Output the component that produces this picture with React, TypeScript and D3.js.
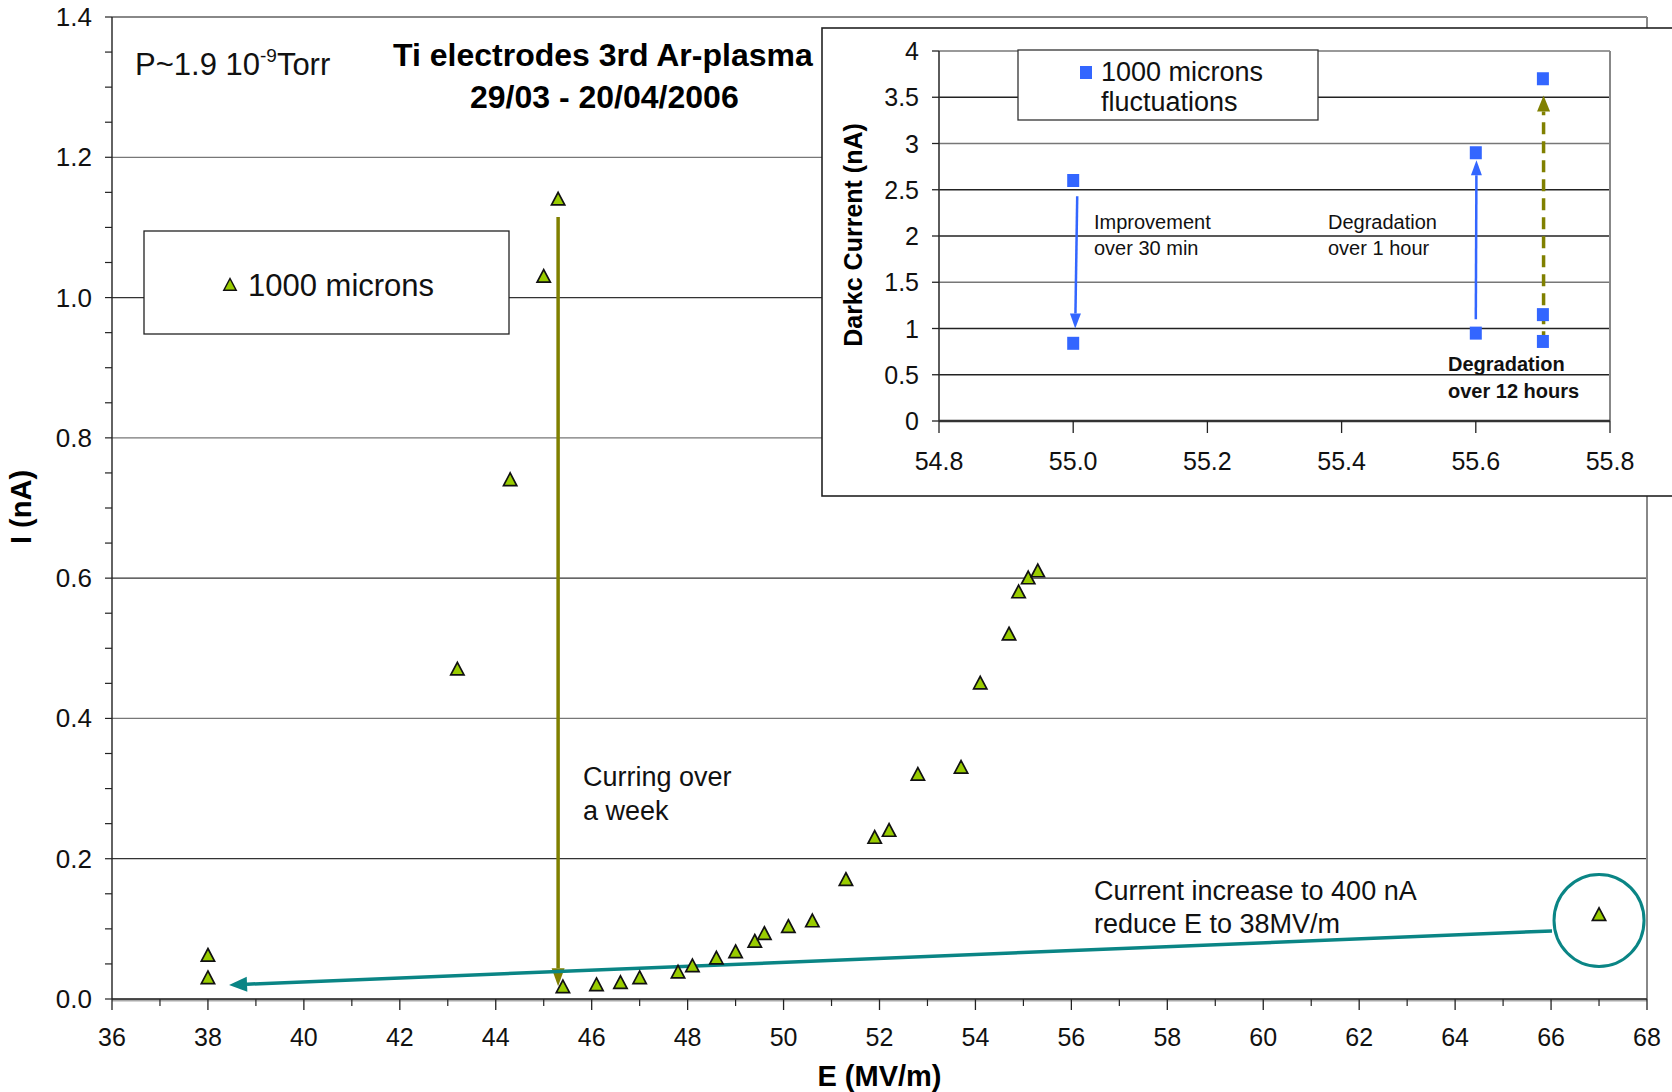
import React from "react";
import * as d3 from "d3";

// main series: 1000 microns, E (MV/m) vs I (nA)
const fieldE = [38, 38, 43.2, 44.3, 45.0, 45.3, 45.4, 46.1, 46.6, 47.0, 47.8, 48.1, 48.6, 49.0, 49.4, 49.6, 50.1, 50.6, 51.3, 51.9, 52.2, 52.8, 53.7, 54.1, 54.7, 54.9, 55.1, 55.3, 67.0];
const currentI = [0.062, 0.03, 0.47, 0.74, 1.03, 1.14, 0.017, 0.02, 0.023, 0.03, 0.038, 0.047, 0.058, 0.067, 0.082, 0.093, 0.103, 0.111, 0.17, 0.23, 0.24, 0.32, 0.33, 0.45, 0.52, 0.58, 0.60, 0.61, 0.12];

// inset: fluctuations
const fluctE = [55.0, 55.0, 55.6, 55.6, 55.7, 55.7, 55.7];
const fluctI = [2.6, 0.84, 2.9, 0.95, 3.7, 1.15, 0.86];

const xTicks = d3.range(36, 69, 2);
const xMinor = d3.range(37, 68, 2);
const yTicks = [0, 0.2, 0.4, 0.6, 0.8, 1.0, 1.2, 1.4];
const yMinor = d3.range(0, 1.4001, 0.05);
const insetXTicks = [54.8, 55.0, 55.2, 55.4, 55.6, 55.8];
const insetYTicks = [0, 0.5, 1, 1.5, 2, 2.5, 3, 3.5, 4];

const FONT = "'Liberation Sans', Arial, sans-serif";
const OLIVE = "#808000";
const TEAL = "#0a8585";
const BLUE = "#3366ff";
const GREEN = "#99cc00";

const x = d3.scaleLinear().domain([36, 68]).range([112, 1647]);
const y = d3.scaleLinear().domain([0, 1.4]).range([999, 17]);
const ix = d3.scaleLinear().domain([54.8, 55.8]).range([939, 1610]);
const iy = d3.scaleLinear().domain([0, 4]).range([421, 51]);

function tri(cx, cy, s = 7) {
  return `M${cx},${cy - s}L${cx + s * 0.95},${cy + s * 0.8}L${cx - s * 0.95},${cy + s * 0.8}Z`;
}

function Arrow({ x1, y1, x2, y2, color, width, headLen, headW, dash }) {
  const a = Math.atan2(y2 - y1, x2 - x1);
  const bx = x2 - headLen * Math.cos(a);
  const by = y2 - headLen * Math.sin(a);
  const px = -Math.sin(a) * headW / 2;
  const py = Math.cos(a) * headW / 2;
  return (
    <g>
      <line x1={x1} y1={y1} x2={bx} y2={by} stroke={color} strokeWidth={width} strokeDasharray={dash} />
      <path d={`M${x2},${y2}L${bx + px},${by + py}L${bx - px},${by - py}Z`} fill={color} />
    </g>
  );
}

export default function App() {
  const fmtY = (v) => v.toFixed(1);
  return (
    <svg width={1672} height={1092} style={{ display: "block", position: "absolute", left: 0, top: 0, background: "#fff" }} fontFamily={FONT}>
      <rect width={1672} height={1092} fill="#fff" />
      {/* grid */}
      {yTicks.filter((t) => t > 0).map((t, i) => (
        <line key={t} x1={x(36)} x2={x(68)} y1={y(t)} y2={y(t)} stroke={i % 2 ? "#777" : "#333"} strokeWidth={1.3} />
      ))}
      <line x1={x(68)} x2={x(68)} y1={y(1.4)} y2={y(0)} stroke="#888" strokeWidth={2} />
      <line x1={x(36)} x2={x(68)} y1={y(1.4)} y2={y(1.4)} stroke="#888" strokeWidth={2} />
      {/* axes */}
      <line x1={x(36)} x2={x(68)} y1={y(0) + 1} y2={y(0) + 1} stroke="#aaa" strokeWidth={3} />
      <line x1={x(36)} x2={x(68)} y1={y(0)} y2={y(0)} stroke="#222" strokeWidth={1.4} />
      <line x1={x(36)} x2={x(36)} y1={y(1.4)} y2={y(0)} stroke="#222" strokeWidth={1.4} />
      {yMinor.map((t) => (
        <line key={t} x1={x(36) - 7} x2={x(36)} y1={y(t)} y2={y(t)} stroke="#222" strokeWidth={1.2} />
      ))}
      {yTicks.map((t) => (
        <text key={t} x={92} y={y(t) + 9} fontSize={26} textAnchor="end" fill="#111">{fmtY(t)}</text>
      ))}
      {xTicks.map((t) => (
        <g key={t}>
          <line x1={x(t)} x2={x(t)} y1={y(0)} y2={y(0) + 11} stroke="#222" strokeWidth={1.3} />
          <text x={x(t)} y={1046} fontSize={25} textAnchor="middle" fill="#111">{t}</text>
        </g>
      ))}
      {xMinor.map((t) => (
        <line key={t} x1={x(t)} x2={x(t)} y1={y(0)} y2={y(0) + 7} stroke="#222" strokeWidth={1.2} />
      ))}
      <text x={x(52)} y={1086} fontSize={29} fontWeight="bold" textAnchor="middle">E (MV/m)</text>
      <text transform="translate(31,507) rotate(-90)" fontSize={29} fontWeight="bold" textAnchor="middle">I (nA)</text>

      {/* title and notes */}
      <text x={135} y={75} fontSize={31} fill="#111">P~1.9 10<tspan dy={-13} fontSize={19}>-9</tspan><tspan dy={13}>Torr</tspan></text>
      <text x={393} y={66} fontSize={32} fontWeight="bold">Ti electrodes 3rd Ar-plasma</text>
      <text x={470} y={108} fontSize={32} fontWeight="bold">29/03 - 20/04/2006</text>

      <rect x={144} y={231} width={365} height={103} fill="#fff" stroke="#222" strokeWidth={1.3} />
      <path d={tri(230, 285, 6.5)} fill={GREEN} stroke="#111" strokeWidth={1.5} />
      <text x={248} y={296} fontSize={31} fill="#111">1000 microns</text>

      <text x={583} y={786} fontSize={27} fill="#111">Curring over</text>
      <text x={583} y={820} fontSize={27} fill="#111">a week</text>
      <text x={1094} y={900} fontSize={27} fill="#111">Current increase to 400 nA</text>
      <text x={1094} y={933} fontSize={27} fill="#111">reduce E to 38MV/m</text>

      {/* annotations */}
      <Arrow x1={x(45.3)} y1={y(1.115)} x2={x(45.3)} y2={y(0.018)} color={OLIVE} width={3.5} headLen={18} headW={13} />
      <Arrow x1={x(66.02)} y1={y(0.097)} x2={x(38.44)} y2={y(0.02)} color={TEAL} width={3.5} headLen={18} headW={15} />
      <ellipse cx={x(67.0)} cy={y(0.112)} rx={45} ry={46} fill="none" stroke={TEAL} strokeWidth={3} />

      {/* data */}
      {fieldE.map((e, i) => (
        <path key={i} d={tri(x(e), y(currentI[i]))} fill={GREEN} stroke="#111" strokeWidth={1.7} />
      ))}

      {/* inset */}
      <rect x={822} y={28} width={860} height={468} fill="#fff" stroke="#222" strokeWidth={1.6} />
      {insetYTicks.filter((t) => t > 0).map((t) => (
        <line key={t} x1={ix(54.8)} x2={ix(55.8)} y1={iy(t)} y2={iy(t)} stroke={t === 4 || t === 3 || t === 1.5 ? "#777" : "#222"} strokeWidth={1.4} />
      ))}
      <line x1={ix(55.8)} x2={ix(55.8)} y1={iy(4)} y2={iy(0)} stroke="#888" strokeWidth={2} />
      <line x1={ix(54.8)} x2={ix(55.8)} y1={iy(0)} y2={iy(0)} stroke="#333" strokeWidth={2.5} />
      <line x1={ix(54.8)} x2={ix(54.8)} y1={iy(4)} y2={iy(0)} stroke="#333" strokeWidth={1.6} />
      {insetYTicks.map((t) => (
        <g key={t}>
          <line x1={ix(54.8) - 7} x2={ix(54.8)} y1={iy(t)} y2={iy(t)} stroke="#222" strokeWidth={1.3} />
          <text x={919} y={iy(t) + 9} fontSize={25} textAnchor="end" fill="#111">{t}</text>
        </g>
      ))}
      {insetXTicks.map((t) => (
        <g key={t}>
          <line x1={ix(t)} x2={ix(t)} y1={iy(0)} y2={iy(0) + 12} stroke="#222" strokeWidth={1.3} />
          <text x={ix(t)} y={470} fontSize={25} textAnchor="middle" fill="#111">{t.toFixed(1)}</text>
        </g>
      ))}
      <text transform="translate(862,235) rotate(-90)" fontSize={25} fontWeight="bold" textAnchor="middle">Darkc Current (nA)</text>

      <rect x={1018} y={50} width={300} height={70} fill="#fff" stroke="#333" strokeWidth={1.3} />
      <rect x={1080} y={66} width={12} height={13} fill={BLUE} />
      <text x={1101} y={81} fontSize={27} fill="#111">1000 microns</text>
      <text x={1101} y={111} fontSize={27} fill="#111">fluctuations</text>

      <text x={1094} y={229} fontSize={20} fill="#111">Improvement</text>
      <text x={1094} y={255} fontSize={20} fill="#111">over 30 min</text>
      <text x={1328} y={229} fontSize={20} fill="#111">Degradation</text>
      <text x={1328} y={255} fontSize={20} fill="#111">over 1 hour</text>
      <text x={1448} y={371} fontSize={20} fontWeight="bold" fill="#111">Degradation</text>
      <text x={1448} y={398} fontSize={20} fontWeight="bold" fill="#111">over 12 hours</text>

      <Arrow x1={ix(55.006)} y1={iy(2.43)} x2={ix(55.003)} y2={iy(1.0)} color={BLUE} width={2.5} headLen={15} headW={11} />
      <Arrow x1={ix(55.6)} y1={iy(1.1)} x2={ix(55.601)} y2={iy(2.82)} color={BLUE} width={2.5} headLen={15} headW={11} />
      <Arrow x1={ix(55.701)} y1={iy(0.84)} x2={ix(55.701)} y2={iy(3.52)} color={OLIVE} width={3.5} headLen={16} headW={13} dash="12 7" />

      {fluctE.map((e, i) => (
        <rect key={i} x={ix(e) - 6} y={iy(fluctI[i]) - 6.5} width={12} height={13} fill={BLUE} />
      ))}
    </svg>
  );
}
